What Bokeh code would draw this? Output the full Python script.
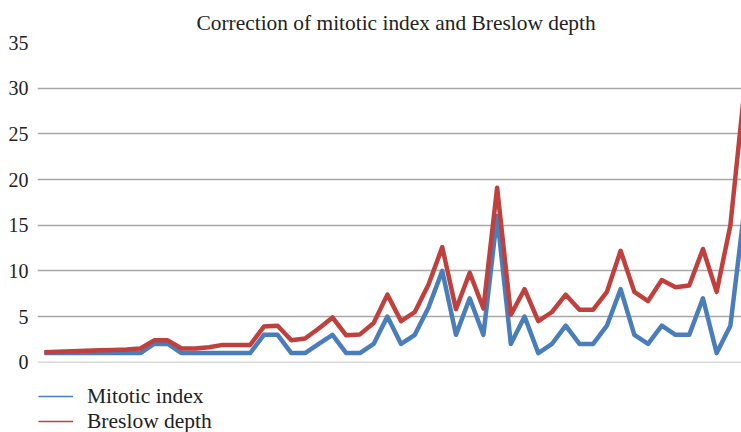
from bokeh.plotting import figure
from bokeh.models import Range1d, FixedTicker, Span, Legend, LegendItem
from bokeh.embed import file_html
from bokeh.resources import INLINE

# ---- data ----
idx = list(range(52))
mitotic = [1, 1, 1, 1, 1, 1, 1, 1, 2, 2, 1, 1, 1, 1, 1, 1,
           3, 3, 1, 1, 2, 3, 1, 1, 2, 5, 2, 3, 6, 10, 3, 7, 3, 16,
           2, 5, 1, 2, 4, 2, 2, 4, 8, 3, 2, 4, 3, 3, 7, 1, 4, 16.5]
breslow = [1.1, 1.15, 1.2, 1.25, 1.3, 1.35, 1.4, 1.5, 2.4, 2.4, 1.5, 1.5, 1.65, 1.9, 1.9, 1.9,
           3.9, 4.0, 2.4, 2.6, 3.7, 4.9, 2.95, 3.05, 4.3, 7.4, 4.5, 5.5, 8.5, 12.6, 5.8, 9.8, 5.9, 19.1,
           5.2, 8.0, 4.5, 5.5, 7.4, 5.75, 5.75, 7.7, 12.2, 7.7, 6.7, 9.0, 8.2, 8.4, 12.4, 7.7, 15.0, 29.5]
y_ticks = [0, 5, 10, 15, 20, 25, 30, 35]
series_names = ["Mitotic index", "Breslow depth"]
title_text = "Correction of mitotic index and Breslow depth"

BLUE = "#4a7ebb"
RED = "#c0403d"
FONT = "Liberation Serif"

# frame extends down over the legend area so the legend is not clipped
p = figure(width=741, height=432, output_backend="svg", toolbar_location=None,
           x_range=Range1d(-0.5, 50.81), y_range=Range1d(-7.69, 35),
           x_axis_location=None,
           min_border_left=37, min_border_right=0, min_border_top=38, min_border_bottom=0)
p.outline_line_color = None
p.background_fill_color = "white"
p.border_fill_color = "white"

p.title.text = title_text
p.title.text_font = FONT
p.title.text_font_size = "21.4px"
p.title.text_font_style = "normal"
p.title.text_color = "#222222"
p.title.align = "left"
p.title.offset = 159
p.title.standoff = 16

p.xgrid.visible = False
p.ygrid.ticker = FixedTicker(ticks=y_ticks[1:])
p.ygrid.grid_line_color = "#a8a8a8"
p.ygrid.grid_line_width = 1.3

p.yaxis.ticker = FixedTicker(ticks=y_ticks)
p.yaxis.axis_line_color = None
p.yaxis.major_tick_line_color = None
p.yaxis.minor_tick_line_color = None
p.yaxis.major_tick_out = 0
p.yaxis.major_tick_in = 0
p.yaxis.major_label_standoff = 9
p.yaxis.major_label_text_font = FONT
p.yaxis.major_label_text_font_size = "20px"
p.yaxis.major_label_text_color = "#222222"

p.add_layout(Span(location=0, dimension="width", line_color="#d9d9d9", line_width=1.5))

p.line(idx, mitotic, line_color=BLUE, line_width=4.5, line_join="round")
p.line(idx, breslow, line_color=RED, line_width=4.5, line_join="round")

# thin legend swatches (hidden renderers, used only by the legend)
lb = p.line(idx, mitotic, line_color=BLUE, line_width=1.5, visible=False)
lr = p.line(idx, breslow, line_color=RED, line_width=1.5, visible=False)
legend = Legend(items=[LegendItem(label=series_names[0], renderers=[lb]),
                       LegendItem(label=series_names[1], renderers=[lr])],
                location=(1, -1.5), margin=0, padding=0, spacing=0,
                glyph_width=35, glyph_height=20, label_height=20,
                label_standoff=14, border_line_color=None,
                background_fill_alpha=0, click_policy="none",
                label_text_font=FONT, label_text_font_size="21.5px",
                label_text_color="#222222")
p.add_layout(legend, "center")

open("out.html", "w").write(file_html(p, INLINE))
